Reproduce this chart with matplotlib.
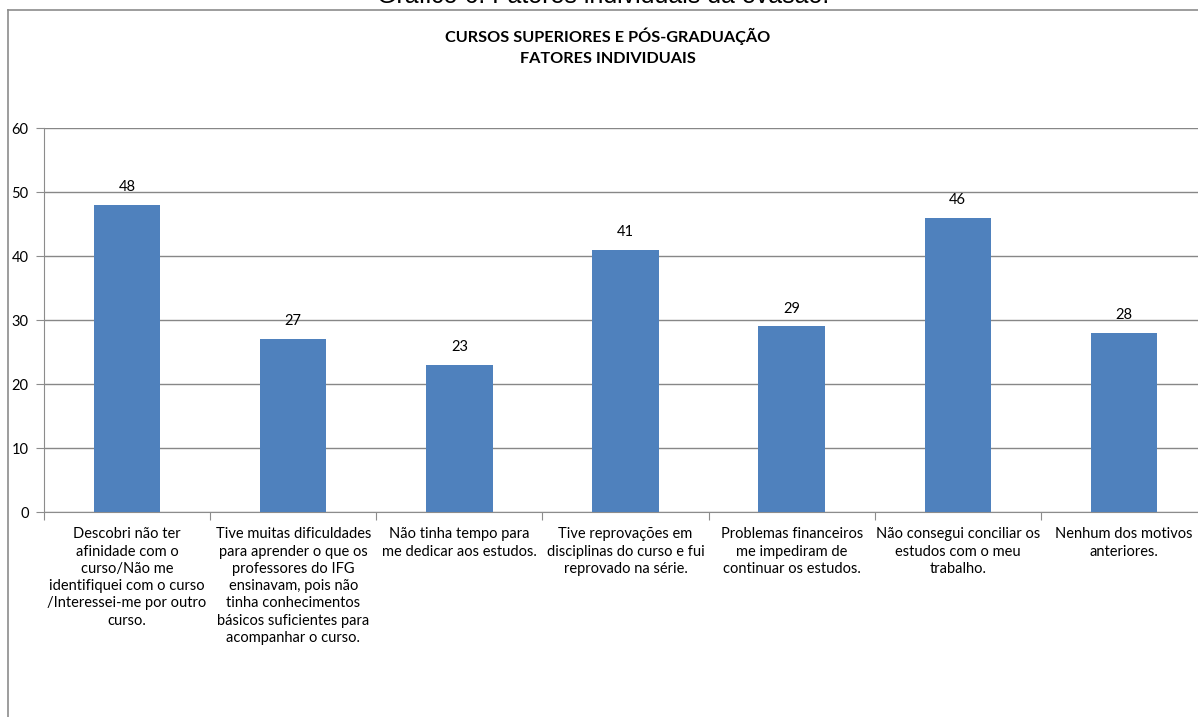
import matplotlib.pyplot as plt
from matplotlib.lines import Line2D
import numpy as np

plt.rcParams['font.family'] = ['Lato', 'DejaVu Sans']

# data
categorias = [
    "Descobri não ter\nafinidade com o\ncurso/Não me\nidentifiquei com o curso\n/Interessei-me por outro\ncurso.",
    "Tive muitas dificuldades\npara aprender o que os\nprofessores do IFG\nensinavam, pois não\ntinha conhecimentos\nbásicos suficientes para\nacompanhar o curso.",
    "Não tinha tempo para\nme dedicar aos estudos.",
    "Tive reprovações em\ndisciplinas do curso e fui\nreprovado na série.",
    "Problemas financeiros\nme impediram de\ncontinuar os estudos.",
    "Não consegui conciliar os\nestudos com o meu\ntrabalho.",
    "Nenhum dos motivos\nanteriores.",
]
valores = [48, 27, 23, 41, 29, 46, 28]
y_ticks = [0, 10, 20, 30, 40, 50, 60]

W, H = 1198, 717
fig = plt.figure(figsize=(W / 100, H / 100), dpi=100)

# outer frame of the chart object (left and top edges visible)
cinza = "#8c8c8c"
fig.add_artist(Line2D([8 / W, 8 / W], [0, 1 - 10 / H], color=cinza, lw=1.2))
fig.add_artist(Line2D([8 / W, 1], [1 - 10 / H, 1 - 10 / H], color=cinza, lw=1.2))

# document caption above, cut off by the top edge
fig.text(603 / W, 1 - 3 / H, "Gráfico 6: Fatores individuais da evasão.",
         ha="center", va="baseline", fontsize=18, family="Liberation Sans")

fig.text(608 / W, 1 - 36 / H, "CURSOS SUPERIORES E PÓS-GRADUAÇÃO",
         ha="center", va="center", fontsize=11.7, fontweight="bold")
fig.text(608 / W, 1 - 59 / H, "FATORES INDIVIDUAIS",
         ha="center", va="center", fontsize=11.7, fontweight="bold")

ax = fig.add_axes([44 / W, (H - 512) / H, 1163 / W, 384 / H])
x = np.arange(len(valores)) + 0.5
bars = ax.bar(x, valores, width=0.4, color="#4f81bd", zorder=3)

for xi, v in zip(x, valores):
    ax.text(xi, v + 1.7, str(v), ha="center", va="bottom", fontsize=10.5)

ax.set_xlim(0, len(valores))
ax.set_ylim(0, 60)
ax.set_yticks(y_ticks)
ax.yaxis.grid(True, color="#878787", lw=1, zorder=0)
ax.tick_params(axis="y", length=6, color=cinza, labelsize=10.5, pad=5)

ax.set_xticks(np.arange(len(valores) + 1))
ax.set_xticklabels([])
ax.tick_params(axis="x", which="major", length=6, color=cinza)
ax.set_xticks(x, minor=True)
ax.set_xticklabels(categorias, minor=True, fontsize=10.5, linespacing=1.3, va="top")
ax.tick_params(axis="x", which="minor", length=0, pad=11)

for s in ["top", "right"]:
    ax.spines[s].set_visible(False)
ax.spines["left"].set_color(cinza)
ax.spines["bottom"].set_color(cinza)

fig.savefig("out.png", dpi=100)
